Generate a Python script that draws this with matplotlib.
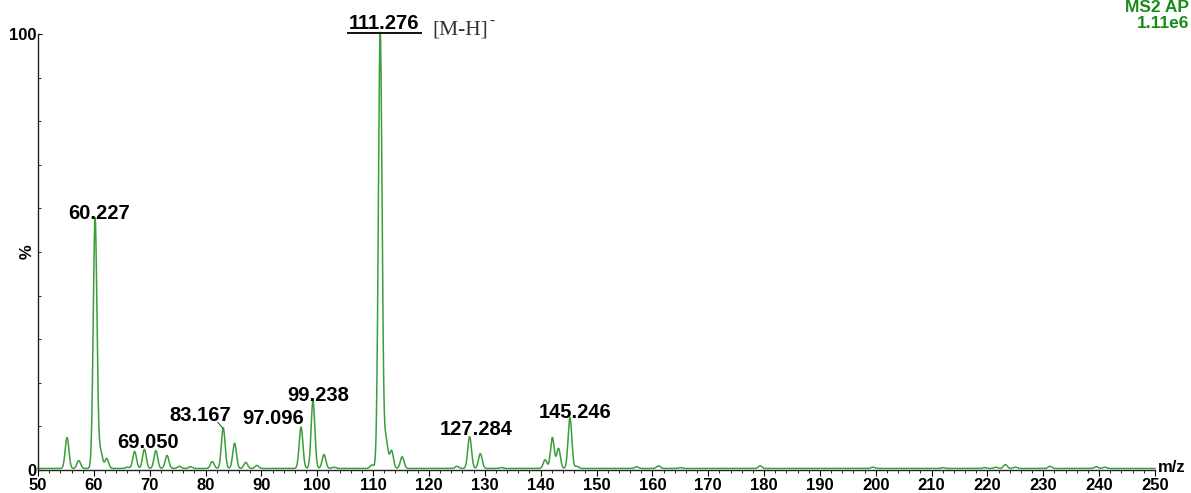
import numpy as np
import matplotlib.pyplot as plt
from matplotlib.ticker import MultipleLocator, FixedLocator

# peak list: m/z and relative intensity (%)
peak_mz = [55.2, 57.3, 60.227, 61.2, 62.3, 66.0, 67.3, 69.05, 71.1, 73.1,
           75.3, 77.3, 81.2, 83.167, 85.2, 87.2, 89.2, 97.096, 99.238, 101.2,
           103.0, 109.8, 111.276, 112.3, 113.3, 115.2, 125.0, 127.284, 129.2,
           133.0, 140.8, 142.1, 143.2, 145.246, 146.5, 157.2, 161.1, 165.0,
           179.3, 199.5, 212.0, 219.5, 221.5, 223.2, 225.0, 231.2, 239.5, 241.0]
peak_int = [7.1, 1.8, 57.5, 3.9, 2.3, 0.3, 3.9, 4.4, 4.1, 3.0,
            0.5, 0.4, 1.6, 9.3, 5.8, 1.4, 0.7, 9.5, 15.6, 3.2,
            0.3, 0.8, 100.0, 6.9, 4.1, 2.7, 0.5, 7.3, 3.4,
            0.2, 2.0, 7.1, 4.6, 11.7, 0.5, 0.4, 0.6, 0.2,
            0.6, 0.3, 0.2, 0.2, 0.3, 0.9, 0.3, 0.5, 0.4, 0.3]

# labelled peaks and where their labels sit (m/z, %)
label_text = ['60.227', '69.050', '83.167', '97.096', '99.238', '127.284', '145.246']
label_pos = [(60.9, 58.9), (69.7, 6.4), (79.0, 12.4), (92.1, 11.7),
             (100.1, 17.0), (128.4, 9.2), (146.2, 13.3)]

base_peak = '111.276'
x_ticks = list(range(50, 251, 10))

# profile trace: each centroid drawn with a gaussian line shape
mz = np.linspace(50, 250, 8001)
trace = np.full_like(mz, 0.35)
for m, h in zip(peak_mz, peak_int):
    trace += h * np.exp(-0.5 * ((mz - m) / 0.33) ** 2)

plt.rcParams['font.family'] = ['Liberation Sans', 'DejaVu Sans']

fig = plt.figure(figsize=(11.91, 4.93), dpi=100)
ax = fig.add_axes([38 / 1191, 1 - 470 / 493, 1117 / 1191, 436 / 493])

ax.plot(mz, trace, color='#3b9e3b', lw=1.1, clip_on=False)

ax.set_xlim(50, 250)
ax.set_ylim(0, 100)
for s in ['top', 'right']:
    ax.spines[s].set_visible(False)
for s in ['left', 'bottom']:
    ax.spines[s].set_linewidth(1.0)
    ax.spines[s].set_color('#222222')

ax.xaxis.set_major_locator(FixedLocator(x_ticks))
ax.xaxis.set_minor_locator(MultipleLocator(2))
ax.tick_params(axis='x', which='major', direction='out', length=4, width=0.8,
               labelsize=12, pad=2)
ax.tick_params(axis='x', which='minor', direction='out', length=2, width=0.6)
for lab in ax.get_xticklabels():
    lab.set_fontweight('bold')

ax.yaxis.set_major_locator(FixedLocator([0, 100]))
ax.yaxis.set_minor_locator(MultipleLocator(10))
ax.tick_params(axis='y', which='major', direction='in', length=3, width=0.8,
               labelsize=12, pad=1)
ax.tick_params(axis='y', which='minor', direction='in', length=2, width=0.6)
for lab in ax.get_yticklabels():
    lab.set_fontweight('bold')

ax.text(-0.003, 0.5, '%', transform=ax.transAxes, rotation=90, ha='right',
        va='center', fontsize=12, fontweight='bold')
ax.text(1.003, -0.012, 'm/z', transform=ax.transAxes, ha='left', va='bottom',
        fontsize=12, fontweight='bold')

# peak annotations
for t, (x, y) in zip(label_text, label_pos):
    ax.text(x, y, t, ha='center', va='center', fontsize=14.5, fontweight='bold',
            clip_on=False)
ax.plot([82.2, 83.1], [10.9, 9.6], color='#333333', lw=0.7)

ax.text(112.0, 102.5, base_peak, ha='center', va='center', fontsize=14.5,
        fontweight='bold', clip_on=False)
ax.plot([105.5, 118.5], [100.3, 100.3], color='#111111', lw=1.4, clip_on=False)
ax.text(120.6, 101.0, '[M-H]', ha='left', va='center', fontsize=15.5,
        family='Liberation Serif', color='#333333', clip_on=False)
ax.text(130.9, 103.0, '-', ha='left', va='center', fontsize=11,
        family='Liberation Serif', color='#333333', clip_on=False)

# instrument header, top right
fig.text(1189 / 1191, 1 - 8 / 493, 'MS2 AP', ha='right', va='center',
         fontsize=12.5, fontweight='bold', color='#1a8a1a')
fig.text(1189 / 1191, 1 - 24 / 493, '1.11e6', ha='right', va='center',
         fontsize=12.5, fontweight='bold', color='#1a8a1a')

fig.savefig('out.png', dpi=100)
